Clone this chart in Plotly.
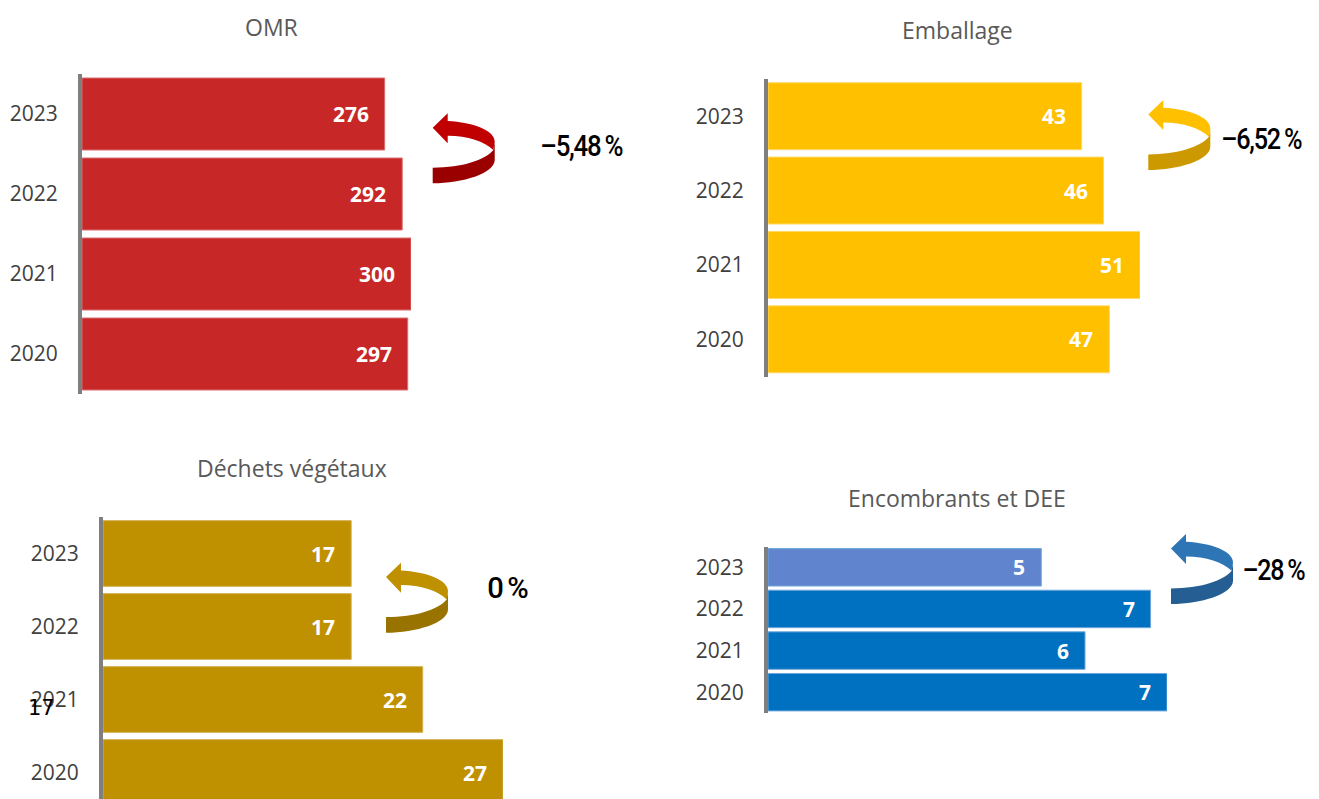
import plotly.graph_objects as go

W, H = 1319, 799

years = ["2023", "2022", "2021", "2020"]
omr_values = [276, 292, 300, 297]
emballage_values = [43, 46, 51, 46.8]
vegetaux_values = [17.0, 17.0, 21.9, 27.4]
encombrants_values = [5.0, 7.0, 5.8, 7.3]

titles = ["OMR", "Emballage", "Déchets végétaux", "Encombrants et DEE"]
changes = ["–5,48 %", "–6,52 %", "0 %", "–28 %"]
change_widths = [82, 80, 40, 62]
stray_label = "17"

panels = [
    dict(values=omr_values, colors=["#C82727"] * 4, edge="#D9706F",
         x0=82, x1=411, top=74, bottom=394, yrange=[3.5, -0.5],
         title_xy=(271, 27), change_xy=(581, 145),
         arrow=(432.7, 113.3), arrow_colors=("#C00000", "#9A0000")),
    dict(values=emballage_values, colors=["#FFC000"] * 4, edge="#FFD966",
         x0=768, x1=1140, top=79, bottom=376.5, yrange=[3.5, -0.5],
         title_xy=(957, 30), change_xy=(1261, 138),
         arrow=(1148.3, 100), arrow_colors=("#FFC000", "#CC9A00")),
    dict(values=vegetaux_values, colors=["#BF9000"] * 4, edge="#D2B04F",
         x0=103, x1=503, top=517, bottom=799, yrange=[3.363, -0.5],
         title_xy=(292, 468), change_xy=(507, 587),
         arrow=(386, 562.7), arrow_colors=("#BF9000", "#997300")),
    dict(values=encombrants_values, colors=["#6085CE", "#0070C0", "#0070C0", "#0070C0"], edge="#6FA8DC",
         x0=768, x1=1167, top=546.5, bottom=713, yrange=[3.5, -0.5],
         title_xy=(957, 498), change_xy=(1273, 569),
         arrow=(1171, 534), arrow_colors=("#2E75B6", "#255E92")),
]

def px(x):
    return x / W

def py(y):
    return 1 - y / H

def path(points_cmds, ox, oy):
    out = []
    for cmd, pts in points_cmds:
        coords = " ".join(f"{px(ox + a):.5f},{py(oy + b):.5f}" for a, b in pts)
        out.append(f"{cmd} {coords}")
    return " ".join(out) + " Z"

ARROW_UPPER = [("M", [(0, 14.4)]), ("L", [(15, 0)]), ("L", [(15, 7.7)]),
               ("C", [(40, 9), (62, 17), (62, 28.4)]), ("L", [(60.6, 36.7)]),
               ("C", [(52, 28), (35, 22.4), (15, 22.4)]), ("L", [(15, 30)])]
ARROW_LOWER = [("M", [(62, 28.4)]), ("L", [(62, 46.7)]),
               ("C", [(62, 60), (30, 70), (0, 70)]), ("L", [(0, 54.4)]),
               ("C", [(30, 54), (52, 47), (60.6, 36.7)])]

fig = go.Figure()
annotations, shapes = [], []
layout = {}
TICK_FONT = dict(family="Open Sans", size=21, color="#404040")

for i, p in enumerate(panels):
    n = "" if i == 0 else str(i + 1)
    fig.add_trace(go.Bar(
        x=p["values"], y=years, orientation="h", xaxis=f"x{n}", yaxis=f"y{n}",
        marker=dict(color=p["colors"], line=dict(color=p["edge"], width=1)),
        showlegend=False, hoverinfo="skip"))
    layout[f"xaxis{n}"] = dict(domain=[px(p["x0"]), px(p["x1"])], range=[0, max(p["values"])],
                               visible=False, anchor=f"y{n}", fixedrange=True)
    layout[f"yaxis{n}"] = dict(domain=[py(p["bottom"]), py(p["top"])], type="category",
                               categoryorder="array", categoryarray=years, range=p["yrange"],
                               anchor=f"x{n}", showline=True, linewidth=4, linecolor="#7F7F7F",
                               ticks="", showgrid=False, tickfont=TICK_FONT,
                               ticklabelstandoff=16, fixedrange=True)
    for k, v in enumerate(p["values"]):
        annotations.append(dict(x=v, y=k, xref=f"x{n}", yref=f"y{n}", text=f"<b>{round(v)}</b>",
                                showarrow=False, xanchor="right", yanchor="middle", xshift=-14,
                                font=dict(family="Open Sans", size=21, color="white")))
    annotations.append(dict(x=px(p["title_xy"][0]), y=py(p["title_xy"][1]), xref="paper", yref="paper",
                            text=titles[i], showarrow=False, xanchor="center", yanchor="middle",
                            font=dict(family="Open Sans", size=23, color="#595959")))
    annotations.append(dict(x=px(p["change_xy"][0]), y=py(p["change_xy"][1]), xref="paper", yref="paper",
                            text=changes[i], showarrow=False, xanchor="center", yanchor="middle",
                            font=dict(family="Roboto", size=30, weight=500, color="black")))
    ox, oy = p["arrow"]
    shapes.append(dict(type="path", xref="paper", yref="paper", path=path(ARROW_LOWER, ox, oy),
                       fillcolor=p["arrow_colors"][1], line=dict(width=0)))
    shapes.append(dict(type="path", xref="paper", yref="paper", path=path(ARROW_UPPER, ox, oy),
                       fillcolor=p["arrow_colors"][0], line=dict(width=0)))

annotations.append(dict(x=px(41), y=py(708), xref="paper", yref="paper", text=stray_label,
                        showarrow=False, xanchor="center", yanchor="middle",
                        font=dict(family="DejaVu Sans", size=21, color="black")))

fig.update_layout(width=W, height=H, margin=dict(l=0, r=0, t=0, b=0), paper_bgcolor="white",
                  plot_bgcolor="white", bargap=0.1, annotations=annotations, shapes=shapes, **layout)

width_map = ",".join(f'"{c}":{w}' for c, w in zip(changes, change_widths))
post = """
document.documentElement.style.overflow='hidden';
document.body.style.margin='0';
var widths={%s};
document.querySelectorAll('.annotation-text').forEach(function(t){
  var w=widths[t.textContent];
  if(w){
    t.style.letterSpacing='-1.5px';
    t.style.wordSpacing='-1px';
    t.setAttribute('textLength',w);
    t.setAttribute('lengthAdjust','spacingAndGlyphs');
  }
});
""" % width_map
fig.write_html("out.html", config={"displayModeBar": False}, post_script=post)
